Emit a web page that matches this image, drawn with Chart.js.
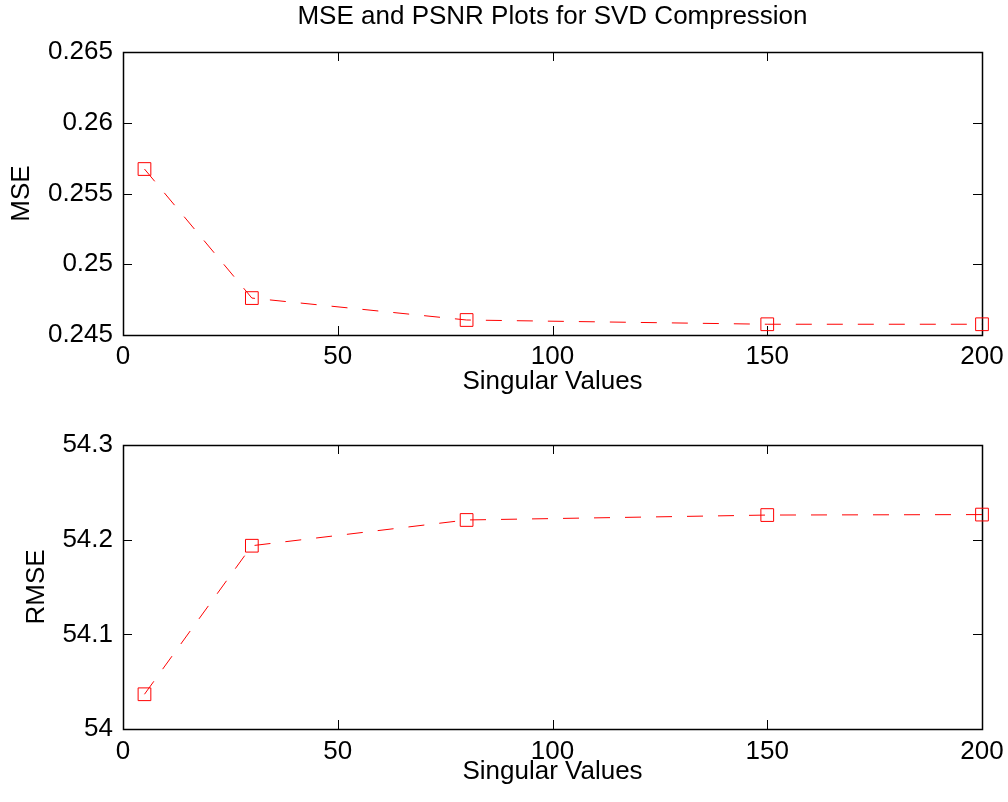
<!DOCTYPE html>
<html>
<head>
<meta charset="utf-8">
<script src="https://cdn.jsdelivr.net/npm/chart.js@4.4.1/dist/chart.umd.min.js"></script>
<style>
    html, body { margin: 0; padding: 0; background: #fff; }
    #wrap { position: relative; width: 1008px; height: 802px; }
    #topChart { position: absolute; left: 0; top: 0; }
    #bottomChart { position: absolute; left: 0; top: 400px; }
</style>
</head>
<body>
<div id="wrap">
    <canvas id="topChart" width="1008" height="400"></canvas>
    <canvas id="bottomChart" width="1008" height="402"></canvas>
</div>
<script>
// data
var singularValues = [5, 30, 80, 150, 200];
var mseValues = [0.25673, 0.24761, 0.24606, 0.24576, 0.24576];
var rmseValues = [54.0367, 54.1936, 54.2208, 54.226, 54.2265];
var xTicks = [0, 50, 100, 150, 200];
var mseTicks = [0.245, 0.25, 0.255, 0.26, 0.265];
var rmseTicks = [54, 54.1, 54.2, 54.3];
var plotTitle = 'MSE and PSNR Plots for SVD Compression';

var fontName = "'Liberation Sans', Arial, Helvetica, sans-serif";
var fontSize = 26;
Chart.defaults.font.family = fontName;
Chart.defaults.color = '#000';

// matlab style box with inward ticks, plus title centred over the axes
var boxPlugin = {
    id: 'matlabBox',
    beforeDatasetsDraw: function (chart, args, opts) {
        var ctx = chart.ctx;
        var a = chart.chartArea;
        var xs = chart.scales.x, ys = chart.scales.y;
        var len = 9;
        ctx.save();
        ctx.strokeStyle = '#000';
        ctx.lineWidth = 1;
        ctx.beginPath();
        xs.ticks.forEach(function (t) {
            var px = Math.round(xs.getPixelForValue(t.value)) + 0.5;
            ctx.moveTo(px, a.bottom); ctx.lineTo(px, a.bottom - len);
            ctx.moveTo(px, a.top); ctx.lineTo(px, a.top + len);
        });
        ys.ticks.forEach(function (t) {
            var py = Math.round(ys.getPixelForValue(t.value)) + 0.5;
            ctx.moveTo(a.left, py); ctx.lineTo(a.left + len, py);
            ctx.moveTo(a.right, py); ctx.lineTo(a.right - len, py);
        });
        ctx.stroke();
        ctx.lineWidth = 1.5;
        ctx.strokeRect(Math.round(a.left) + 0.5, Math.round(a.top) + 0.5,
            Math.round(a.right - a.left), Math.round(a.bottom - a.top));
        if (opts.text) {
            ctx.fillStyle = '#000';
            ctx.font = fontSize + 'px ' + fontName;
            ctx.textAlign = 'center';
            ctx.textBaseline = 'alphabetic';
            ctx.fillText(opts.text, (a.left + a.right) / 2, opts.baseline);
        }
        ctx.restore();
    }
};

function makePlot(canvasId, yValues, yTicks, cfg) {
    var yMin = yTicks[0], yMax = yTicks[yTicks.length - 1];
    new Chart(document.getElementById(canvasId).getContext('2d'), {
        type: 'line',
        data: {
            datasets: [{
                data: singularValues.map(function (x, i) { return {x: x, y: yValues[i]}; }),
                borderColor: '#ff0000',
                borderWidth: 1,
                borderDash: [16, 15],
                pointStyle: 'rect',
                pointRadius: 9,
                pointHoverRadius: 9,
                pointBorderColor: '#ff0000',
                pointBackgroundColor: 'rgba(0,0,0,0)',
                pointBorderWidth: 1,
                tension: 0,
                clip: false
            }]
        },
        options: {
            responsive: false,
            animation: false,
            events: [],
            layout: { padding: { left: 0, right: 26, top: cfg.padTop, bottom: 0 } },
            plugins: {
                legend: { display: false },
                tooltip: { enabled: false },
                title: { display: false },
                matlabBox: { text: cfg.title, baseline: 24 }
            },
            scales: {
                x: {
                    type: 'linear',
                    min: 0, max: 200,
                    afterBuildTicks: function (s) { s.ticks = xTicks.map(function (v) { return {value: v}; }); },
                    afterFit: function (s) {
                        s.height = cfg.xHeight;
                        s.paddingLeft = 0;
                        s.paddingRight = 0;
                    },
                    grid: { display: false, drawTicks: false },
                    border: { display: false },
                    ticks: { font: { size: fontSize }, padding: cfg.xTickPad, maxRotation: 0 },
                    title: {
                        display: true, text: 'Singular Values',
                        font: { size: fontSize }, padding: { top: 0, bottom: cfg.xTitlePad }
                    }
                },
                y: {
                    type: 'linear',
                    min: yMin, max: yMax,
                    afterBuildTicks: function (s) { s.ticks = yTicks.map(function (v) { return {value: v}; }); },
                    afterFit: function (s) {
                        s.width = 123;
                        s.paddingTop = 0;
                        s.paddingBottom = 0;
                    },
                    grid: { display: false, drawTicks: false },
                    border: { display: false },
                    ticks: {
                        font: { size: fontSize }, padding: 10,
                        callback: function (v) { return String(+v.toFixed(3)); }
                    },
                    title: {
                        display: true, text: cfg.yLabel,
                        font: { size: fontSize }, padding: { top: cfg.yTitlePad, bottom: 0 }
                    }
                }
            }
        },
        plugins: [boxPlugin]
    });
}

makePlot('topChart', mseValues, mseTicks, {
    title: plotTitle,
    padTop: 52, xHeight: 65, xTickPad: 6, xTitlePad: 3, yLabel: 'MSE', yTitlePad: 6
});
makePlot('bottomChart', rmseValues, rmseTicks, {
    title: null,
    padTop: 45, xHeight: 73, xTickPad: 7, xTitlePad: 15, yLabel: 'RMSE', yTitlePad: 21
});
</script>
</body>
</html>
